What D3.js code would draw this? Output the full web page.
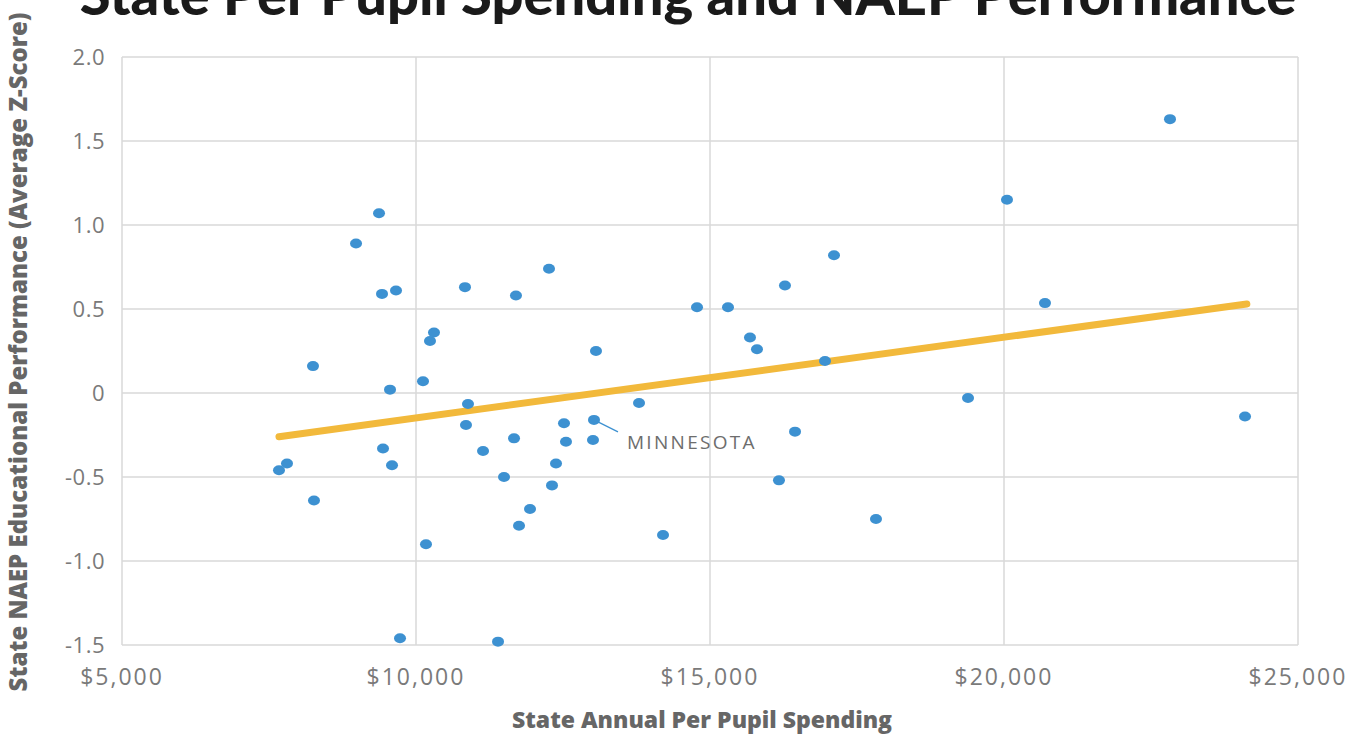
<!DOCTYPE html>
<html>
<head>
<meta charset="utf-8">
<script src="https://cdn.jsdelivr.net/npm/d3@7"></script>
<style>
  body { margin: 0; background: #fff; }
  text { font-family: "Open Sans", "Lato", sans-serif; }
</style>
</head>
<body>
<div id="chart"></div>
<script>
// spending per pupil ($) and NAEP average z-score, one per state
const spending = [7670, 7806, 8248, 8265, 8980, 9371, 9422, 9660, 9558, 9439,
  9592, 9728, 10119, 10170, 10238, 10306, 10833, 10884, 10850, 11140,
  11395, 11497, 11667, 11700, 11752, 11939, 12262, 12313, 12381, 12517,
  12551, 13010, 13027, 13061, 13793, 14201, 14779, 15306, 15680, 15799,
  16173, 16275, 16446, 16956, 17109, 17823, 19388, 20051, 20697, 22823, 24099];
const score = [-0.46, -0.42, 0.16, -0.64, 0.89, 1.07, 0.59, 0.61, 0.02, -0.33,
  -0.43, -1.46, 0.07, -0.90, 0.31, 0.36, 0.63, -0.065, -0.19, -0.345,
  -1.48, -0.50, -0.27, 0.58, -0.79, -0.69, 0.74, -0.55, -0.42, -0.18,
  -0.29, -0.28, -0.16, 0.25, -0.06, -0.845, 0.51, 0.51, 0.33, 0.26,
  -0.52, 0.64, -0.23, 0.19, 0.82, -0.75, -0.03, 1.15, 0.535, 1.63, -0.14];
const labelIndex = 32; // Minnesota
const labelText = "MINNESOTA";

// trend line end points
const trendX = [7670, 24130];
const trendY = [-0.26, 0.53];

const xTicks = [5000, 10000, 15000, 20000, 25000];
const yTicks = [2.0, 1.5, 1.0, 0.5, 0, -0.5, -1.0, -1.5];
const yTickLabels = ["2.0", "1.5", "1.0", "0.5", "0", "-0.5", "-1.0", "-1.5"];

let width = 1351, height = 736;
let margin = { top: 57, bottom: 91, left: 122, right: 53 };

let svg = d3.select('#chart')
  .append('svg')
  .attr('width', width)
  .attr('height', height);

let xScale = d3.scaleLinear()
  .domain([5000, 25000])
  .range([margin.left, width - margin.right]);

let yScale = d3.scaleLinear()
  .domain([-1.5, 2.0])
  .range([height - margin.bottom, margin.top]);

// grid lines
svg.append('g')
  .selectAll('line')
  .data(yTicks)
  .enter().append('line')
  .attr('x1', margin.left)
  .attr('x2', width - margin.right)
  .attr('y1', d => yScale(d))
  .attr('y2', d => yScale(d))
  .attr('stroke', '#d9d9d9')
  .attr('stroke-width', 1.5);

svg.append('g')
  .selectAll('line')
  .data(xTicks)
  .enter().append('line')
  .attr('x1', d => xScale(d))
  .attr('x2', d => xScale(d))
  .attr('y1', margin.top)
  .attr('y2', height - margin.bottom)
  .attr('stroke', '#d9d9d9')
  .attr('stroke-width', 1.5);

// axis tick labels
svg.append('g')
  .selectAll('text')
  .data(yTicks)
  .enter().append('text')
  .attr('x', 105)
  .attr('y', d => yScale(d) + 8)
  .attr('text-anchor', 'end')
  .attr('fill', '#7a7a7a')
  .style('font-size', '22px')
  .style('letter-spacing', '0.5px')
  .text((d, i) => yTickLabels[i]);

svg.append('g')
  .selectAll('text')
  .data(xTicks)
  .enter().append('text')
  .attr('x', d => xScale(d))
  .attr('y', 685)
  .attr('text-anchor', 'middle')
  .attr('fill', '#7a7a7a')
  .style('font-size', '23px')
  .style('letter-spacing', '2px')
  .text(d => '$' + d3.format(',')(d));

// trend line
svg.append('line')
  .attr('x1', xScale(trendX[0]))
  .attr('y1', yScale(trendY[0]))
  .attr('x2', xScale(trendX[1]))
  .attr('y2', yScale(trendY[1]))
  .attr('stroke', '#f2b93b')
  .attr('stroke-width', 7)
  .attr('stroke-linecap', 'round');

// points
svg.append('g')
  .selectAll('ellipse')
  .data(spending)
  .enter().append('ellipse')
  .attr('cx', d => xScale(d))
  .attr('cy', (d, i) => yScale(score[i]))
  .attr('rx', 6)
  .attr('ry', 5)
  .attr('fill', '#3d91d1');

// Minnesota label
let mx = xScale(spending[labelIndex]), my = yScale(score[labelIndex]);
svg.append('line')
  .attr('x1', mx + 4)
  .attr('y1', my + 2)
  .attr('x2', mx + 24)
  .attr('y2', my + 12)
  .attr('stroke', '#3d91d1')
  .attr('stroke-width', 1.2);

svg.append('text')
  .attr('x', mx + 33)
  .attr('y', my + 29)
  .attr('fill', '#6d6d6d')
  .style('font-size', '19px')
  .style('letter-spacing', '2.3px')
  .text(labelText);

// title
svg.append('text')
  .attr('x', 688)
  .attr('y', 15)
  .attr('text-anchor', 'middle')
  .attr('fill', '#1a1a1a')
  .style('font-family', 'Lato, sans-serif')
  .style('font-size', '56px')
  .style('font-weight', 900)
  .text('State Per Pupil Spending and NAEP Performance');

// axis titles
svg.append('text')
  .attr('x', 702)
  .attr('y', 728)
  .attr('text-anchor', 'middle')
  .attr('fill', '#666')
  .style('font-size', '23px')
  .style('font-weight', 800)
  .text('State Annual Per Pupil Spending');

svg.append('text')
  .attr('transform', 'translate(27,352) rotate(-90)')
  .attr('text-anchor', 'middle')
  .attr('fill', '#666')
  .style('font-size', '24px')
  .style('font-weight', 800)
  .text('State NAEP Educational Performance (Average Z-Score)');
</script>
</body>
</html>
